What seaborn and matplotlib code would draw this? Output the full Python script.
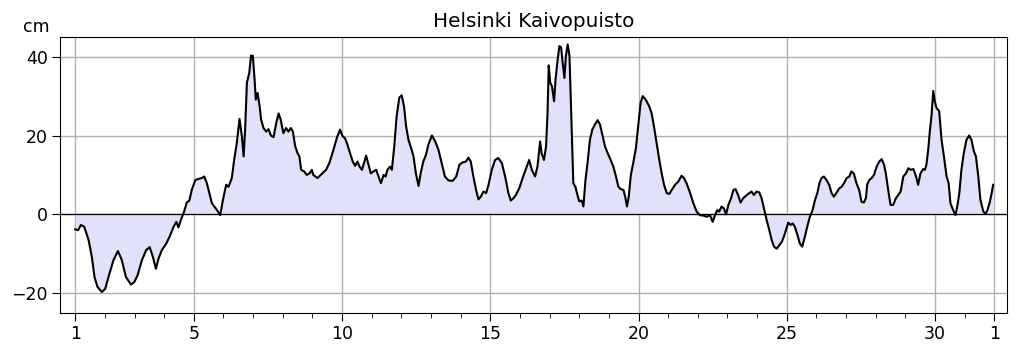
import numpy as np
import pandas as pd
import matplotlib
matplotlib.use("Agg")
import matplotlib.pyplot as plt
import seaborn as sns

# sea level readings (day of month, cm)
days = [
    1.00, 1.10, 1.19, 1.30, 1.45, 1.56, 1.65, 1.75, 1.90, 2.01, 2.12, 2.29, 2.44, 2.57,
    2.71, 2.88, 2.99, 3.10, 3.25, 3.39, 3.51, 3.62, 3.72, 3.81, 3.92, 4.07, 4.18, 4.32,
    4.41, 4.48, 4.56, 4.67, 4.76, 4.85, 4.93, 5.05, 5.16, 5.27, 5.35, 5.44, 5.61, 5.78,
    5.89, 5.98, 6.09, 6.17, 6.28, 6.36, 6.45, 6.54, 6.62, 6.68, 6.73, 6.79, 6.87, 6.93,
    6.99, 7.05, 7.09, 7.15, 7.22, 7.27, 7.35, 7.44, 7.52, 7.60, 7.69, 7.78, 7.86, 7.93,
    8.02, 8.11, 8.19, 8.27, 8.34, 8.42, 8.50, 8.56, 8.62, 8.72, 8.81, 8.90, 8.98, 9.03,
    9.17, 9.32, 9.46, 9.57, 9.71, 9.82, 9.93, 10.02, 10.10, 10.18, 10.27, 10.36, 10.44,
    10.52, 10.59, 10.67, 10.74, 10.81, 10.89, 10.97, 11.06, 11.15, 11.23, 11.31, 11.40,
    11.47, 11.53, 11.62, 11.68, 11.76, 11.84, 11.93, 12.01, 12.09, 12.16, 12.24, 12.33,
    12.41, 12.49, 12.58, 12.65, 12.74, 12.83, 12.91, 13.03, 13.14, 13.25, 13.36, 13.47,
    13.59, 13.73, 13.85, 13.96, 14.07, 14.18, 14.26, 14.34, 14.43, 14.52, 14.60, 14.68,
    14.77, 14.86, 14.94, 15.05, 15.16, 15.27, 15.39, 15.50, 15.61, 15.69, 15.78, 15.87,
    15.98, 16.09, 16.21, 16.31, 16.40, 16.51, 16.59, 16.68, 16.73, 16.81, 16.88, 16.93,
    16.97, 17.02, 17.08, 17.15, 17.20, 17.26, 17.33, 17.39, 17.44, 17.50, 17.55, 17.61,
    17.67, 17.71, 17.76, 17.80, 17.87, 17.94, 18.00, 18.08, 18.14, 18.21, 18.29, 18.36,
    18.44, 18.53, 18.62, 18.70, 18.79, 18.87, 18.96, 19.06, 19.15, 19.24, 19.32, 19.40,
    19.49, 19.55, 19.61, 19.67, 19.74, 19.82, 19.91, 20.00, 20.07, 20.14, 20.25, 20.36,
    20.44, 20.52, 20.61, 20.70, 20.78, 20.86, 20.95, 21.04, 21.12, 21.23, 21.34, 21.45,
    21.53, 21.62, 21.74, 21.85, 21.96, 22.07, 22.18, 22.30, 22.41, 22.50, 22.58, 22.66,
    22.72, 22.80, 22.88, 22.95, 23.03, 23.12, 23.20, 23.27, 23.36, 23.44, 23.53, 23.65,
    23.74, 23.81, 23.89, 23.98, 24.07, 24.15, 24.23, 24.32, 24.41, 24.49, 24.57, 24.66,
    24.75, 24.83, 24.90, 24.97, 25.05, 25.13, 25.20, 25.27, 25.35, 25.44, 25.52, 25.61,
    25.69, 25.78, 25.87, 25.95, 26.03, 26.10, 26.17, 26.25, 26.34, 26.43, 26.51, 26.59,
    26.68, 26.77, 26.85, 26.93, 27.02, 27.11, 27.18, 27.26, 27.35, 27.44, 27.52, 27.60,
    27.67, 27.71, 27.78, 27.86, 27.94, 28.03, 28.12, 28.20, 28.28, 28.34, 28.42, 28.50,
    28.59, 28.68, 28.76, 28.84, 28.93, 29.02, 29.10, 29.18, 29.27, 29.36, 29.43, 29.51,
    29.60, 29.66, 29.71, 29.77, 29.83, 29.88, 29.94, 29.99, 30.05, 30.14, 30.22, 30.30,
    30.39, 30.46, 30.52, 30.61, 30.69, 30.75, 30.82, 30.89, 30.97, 31.06, 31.15, 31.23,
    31.31, 31.38, 31.46, 31.53, 31.63, 31.70, 31.77, 31.85, 31.92, 31.96,
]
level_cm = [
    -3.8, -4.0, -2.7, -3.1, -6.5, -10.8, -15.9, -18.4, -19.7, -18.9, -15.9, -11.6, -9.3, -11.6,
    -15.9, -17.8, -17.2, -15.5, -11.6, -9.1, -8.3, -10.8, -13.8, -11.2, -9.1, -7.4, -5.7, -3.1,
    -1.9, -3.3, -1.5, 0.7, 3.0, 3.5, 6.2, 8.7, 9.0, 9.2, 9.6, 7.9, 2.8, 1.1,
    -0.2, 3.6, 7.5, 7.0, 9.2, 13.8, 18.1, 24.2, 19.8, 14.7, 21.5, 33.4, 35.9, 40.3,
    40.2, 34.1, 29.1, 30.8, 27.4, 24.0, 21.9, 21.0, 21.6, 20.0, 19.6, 23.2, 25.6, 24.0,
    20.6, 21.9, 21.0, 21.9, 21.0, 17.2, 15.5, 14.7, 11.3, 10.9, 10.0, 10.4, 11.3, 10.0,
    9.2, 10.3, 11.3, 13.0, 16.4, 19.3, 21.5, 19.8, 19.3, 17.7, 15.5, 13.4, 12.3,
    13.4, 12.1, 11.3, 13.0, 14.9, 12.6, 10.4, 10.9, 11.3, 9.6, 7.9, 10.0,
    9.6, 11.3, 12.1, 11.3, 17.2, 24.9, 29.6, 30.2, 27.4, 22.3, 18.9, 16.8,
    14.7, 10.4, 7.2, 10.4, 13.4, 15.1, 17.7, 20.0, 18.5, 16.4, 13.0, 9.6,
    8.6, 8.5, 9.6, 12.6, 13.2, 13.4, 14.4, 13.4, 9.6, 6.2, 3.8, 4.5,
    5.8, 5.4, 7.5, 11.3, 13.8, 14.3, 13.0, 9.6, 5.4, 3.5, 4.1, 5.0,
    6.7, 9.2, 11.7, 13.8, 11.3, 9.6, 12.1, 18.5, 15.5, 13.8, 17.2, 25.7,
    37.8, 33.4, 32.5, 28.7, 34.2, 38.5, 42.7, 42.3, 38.5, 34.6, 40.2, 43.1,
    40.2, 30.0, 17.2, 7.9, 7.0, 4.9, 3.3, 3.5, 2.0, 8.7, 13.8, 18.9,
    21.5, 22.8, 23.9, 22.8, 19.8, 17.2, 15.5, 13.8, 12.1, 9.6, 7.0, 6.4,
    6.2, 4.5, 2.0, 4.5, 10.0, 13.0, 16.8, 23.2, 28.3, 30.0, 29.0, 27.4,
    25.7, 22.3, 18.1, 13.8, 10.4, 7.5, 5.4, 5.2, 6.2, 7.5, 8.3, 9.8,
    9.2, 7.9, 5.4, 2.8, 0.7, -0.2, -0.3, -0.6, -0.2, -1.9, -0.2, 1.1,
    0.7, 2.0, 1.5, 0.0, 2.4, 4.1, 6.2, 6.4, 4.9, 3.0, 4.1, 4.9,
    5.4, 5.8, 4.9, 5.8, 5.6, 4.1, 1.5, -1.4, -4.0, -6.5, -8.2, -8.7,
    -7.8, -7.0, -5.7, -4.0, -2.1, -2.7, -2.3, -3.1, -5.0, -7.4, -8.2, -5.7,
    -3.1, -0.6, 1.1, 3.6, 5.4, 7.9, 9.2, 9.6, 8.7, 7.5, 5.4, 4.5,
    5.5, 6.6, 7.0, 7.9, 9.2, 9.6, 10.9, 10.4, 7.9, 6.2, 3.2, 3.0,
    4.1, 7.5, 8.7, 9.2, 10.0, 12.1, 13.4, 14.0, 12.6, 10.4, 6.2, 2.4,
    2.4, 4.1, 4.9, 5.8, 9.6, 10.4, 11.7, 11.3, 11.5, 9.6, 7.5, 10.4,
    11.5, 11.3, 12.6, 16.4, 21.5, 24.9, 31.3, 28.7, 27.0, 26.2, 18.9, 14.7,
    9.6, 7.9, 2.8, 1.1, -0.2, 2.0, 5.4, 11.3, 15.5, 18.9, 20.0, 18.9,
    16.0, 14.7, 9.6, 3.7, 0.7, 0.1, 1.1, 3.2, 5.8, 7.5,
]

tick_days = [1, 5, 10, 15, 20, 25, 30, 32]
tick_labels = ["1", "5", "10", "15", "20", "25", "30", "1"]

df = pd.DataFrame({"day": days, "level": level_cm})

fig = plt.figure(figsize=(10.19, 3.52), dpi=100)
ax = fig.add_axes([0.059, 0.111, 0.929, 0.784])

ax.fill_between(df["day"], df["level"], 0, color="#e1e1fa", lw=0)
ax.axhline(0, color="black", lw=0.9)
sns.lineplot(data=df, x="day", y="level", color="black", lw=1.5, ax=ax, sort=False)

ax.set_xlim(0.49, 32.42)
ax.set_ylim(-25, 45)
ax.set_xticks(tick_days)
ax.set_xticklabels(tick_labels)
ax.set_xticks(np.arange(1, 33), minor=True)
ax.set_yticks([-20, 0, 20, 40])
ax.tick_params(axis="both", which="major", labelsize=12.5, length=5.5)
ax.tick_params(axis="x", which="minor", length=3.5)
ax.grid(True, which="major", color="#b0b0b0", lw=1)
ax.set_axisbelow(True)
ax.set_xlabel("")
ax.set_ylabel("")
ax.set_title("Helsinki Kaivopuisto", fontsize=14.4, pad=7)
ax.text(-0.039, 1.036, "cm", transform=ax.transAxes, fontsize=12.5, ha="left", va="center")

fig.savefig("out.png", dpi=100)
